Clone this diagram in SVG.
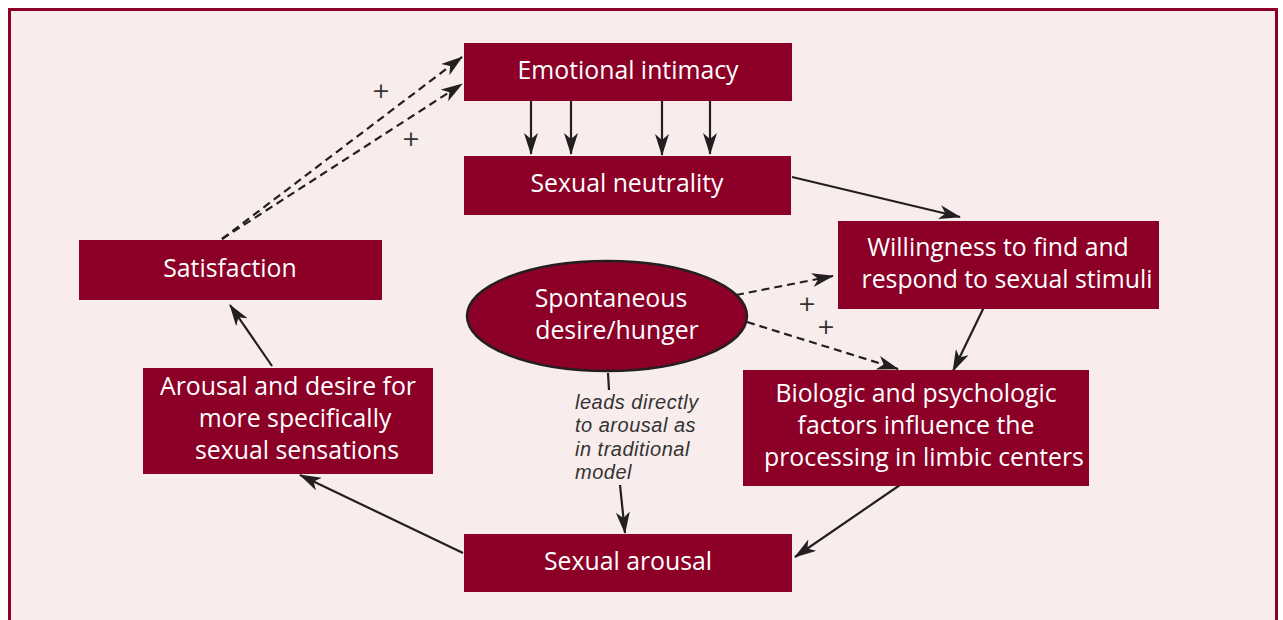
<svg xmlns="http://www.w3.org/2000/svg" width="1283" height="620" viewBox="0 0 1283 620">
<defs>
<style>
.box{fill:#8c0027;}
.t{fill:#ffffff;font-family:"Open Sans","Liberation Sans",sans-serif;font-size:24.8px;text-anchor:middle;}
.ln{stroke:#231f20;stroke-width:2.2;fill:none;}
.dash{stroke-dasharray:8 5;}
.plus{fill:#333333;font-family:"DejaVu Sans",sans-serif;font-size:22px;text-anchor:middle;}
.it{fill:#333;font-family:"Liberation Sans",sans-serif;font-size:20px;font-style:italic;letter-spacing:0.5px;}
</style>
<marker id="ah" viewBox="0 0 22 14" refX="21" refY="7" markerWidth="22" markerHeight="14" markerUnits="userSpaceOnUse" orient="auto">
<path d="M0,0 L22,7 L0,14 L6,7 Z" fill="#231f20"/>
</marker>
</defs>
<rect x="0" y="0" width="1283" height="620" fill="#ffffff"/>
<rect x="9.5" y="9.5" width="1267" height="620" fill="#f9ecec" stroke="#8c0027" stroke-width="3"/>

<g id="connectors">
<line class="ln dash" x1="222" y1="239" x2="462" y2="57" marker-end="url(#ah)"/>
<line class="ln dash" x1="222" y1="239" x2="462" y2="84" marker-end="url(#ah)"/>
<line class="ln" x1="531" y1="101" x2="531" y2="154" marker-end="url(#ah)"/>
<line class="ln" x1="571" y1="101" x2="571" y2="154" marker-end="url(#ah)"/>
<line class="ln" x1="662" y1="101" x2="662" y2="155" marker-end="url(#ah)"/>
<line class="ln" x1="710" y1="101" x2="710" y2="154" marker-end="url(#ah)"/>
<line class="ln" x1="792" y1="177" x2="960" y2="217" marker-end="url(#ah)"/>
<line class="ln dash" x1="736" y1="295" x2="833" y2="276" marker-end="url(#ah)"/>
<line class="ln dash" x1="747" y1="322" x2="898" y2="369" marker-end="url(#ah)"/>
<line class="ln" x1="985" y1="305" x2="953" y2="371" marker-end="url(#ah)"/>
<line class="ln" x1="916" y1="474" x2="795" y2="557" marker-end="url(#ah)"/>
<line class="ln" x1="608" y1="373" x2="609" y2="390"/>
<line class="ln" x1="620" y1="485" x2="625" y2="533" marker-end="url(#ah)"/>
<line class="ln" x1="463" y1="553" x2="300" y2="475" marker-end="url(#ah)"/>
<line class="ln" x1="272" y1="366" x2="230" y2="305" marker-end="url(#ah)"/>
<text class="plus" x="381" y="98">+</text>
<text class="plus" x="411" y="146">+</text>
<text class="plus" x="807" y="311">+</text>
<text class="plus" x="826" y="334">+</text>
<text class="it"><tspan x="575" y="409">leads directly</tspan><tspan x="575" y="432">to arousal as</tspan><tspan x="575" y="456">in traditional</tspan><tspan x="575" y="479">model</tspan></text>
</g>

<g id="emotional-intimacy"><rect class="box" x="464" y="43" width="328" height="58"/><text class="t" x="628" y="79">Emotional intimacy</text></g>
<g id="sexual-neutrality"><rect class="box" x="464" y="156" width="327" height="59"/><text class="t" x="627" y="192">Sexual neutrality</text></g>
<g id="satisfaction"><rect class="box" x="79" y="240" width="303" height="60"/><text class="t" x="230" y="277">Satisfaction</text></g>
<g id="willingness"><rect class="box" x="838" y="221" width="321" height="88"/><text class="t"><tspan x="998" y="256">Willingness to find and</tspan><tspan x="1007" y="288">respond to sexual stimuli</tspan></text></g>
<g id="spontaneous"><ellipse cx="607" cy="316" rx="140" ry="55" fill="#8c0027" stroke="#231f20" stroke-width="2.5"/><text class="t"><tspan x="611" y="307">Spontaneous</tspan><tspan x="617" y="339">desire/hunger</tspan></text></g>
<g id="biologic"><rect class="box" x="743" y="370" width="346" height="116"/><text class="t"><tspan x="916" y="402">Biologic and psychologic</tspan><tspan x="916" y="434">factors influence the</tspan><tspan x="924" y="466">processing in limbic centers</tspan></text></g>
<g id="arousal-desire"><rect class="box" x="143" y="368" width="290" height="106"/><text class="t"><tspan x="288" y="395">Arousal and desire for</tspan><tspan x="295" y="427">more specifically</tspan><tspan x="297" y="459">sexual sensations</tspan></text></g>
<g id="sexual-arousal"><rect class="box" x="464" y="534" width="328" height="58"/><text class="t" x="628" y="570">Sexual arousal</text></g>
</svg>
